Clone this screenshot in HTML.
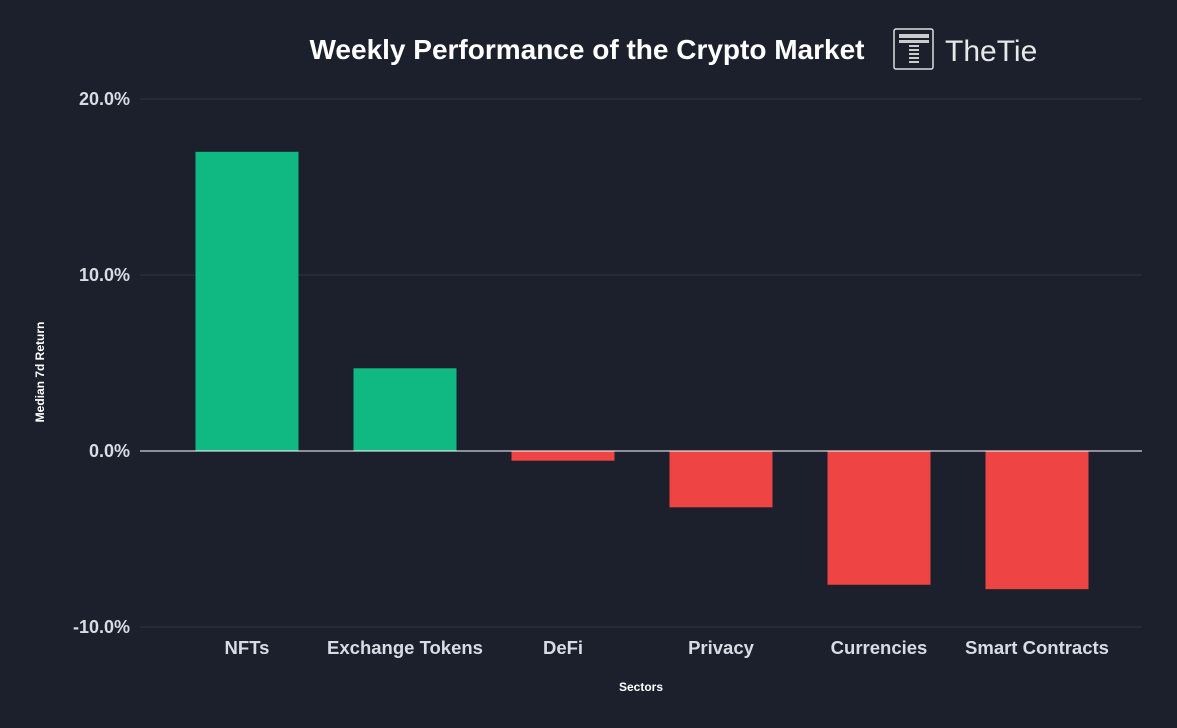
<!DOCTYPE html>
<html><head><meta charset="utf-8"><style>
html,body{margin:0;padding:0;background:#1b202c;}
svg{display:block;font-family:"Liberation Sans",sans-serif;}
</style></head><body>
<svg id="chart" width="1177" height="728">
<rect width="1177" height="728" fill="#1b202c"/>
<text x="587" y="59" text-anchor="middle" font-size="28" font-weight="bold" fill="#fff">Weekly Performance of the Crypto Market</text>
<g>
<rect x="894" y="29" width="39" height="40" rx="2" fill="none" stroke="#ddd" stroke-width="1.5"/>
<rect x="899" y="34" width="30" height="4" fill="#ccc"/>
<rect x="899" y="40" width="30" height="3" fill="#ccc"/>
<rect x="909" y="45" width="10" height="2" fill="#ccc"/>
<rect x="909" y="49" width="10" height="2" fill="#ccc"/>
<rect x="909" y="53" width="10" height="2" fill="#ccc"/>
<rect x="909" y="57" width="10" height="2" fill="#ccc"/>
<rect x="909" y="61" width="10" height="2" fill="#ccc"/>
<text x="945" y="61" font-size="30" fill="#e8e8e8">TheTie</text>
</g>
<g id="grid"></g><g id="bars"></g><g id="labels"></g>
<text transform="translate(44,372) rotate(-90)" text-anchor="middle" font-size="12" font-weight="bold" fill="#fff">Median 7d Return</text>
<text x="641" y="691" text-anchor="middle" font-size="12" font-weight="bold" fill="#fff">Sectors</text>
</svg>
<script>
const categories=["NFTs","Exchange Tokens","DeFi","Privacy","Currencies","Smart Contracts"];
const values=[17.0,4.7,-0.55,-3.2,-7.6,-7.85];
const ticks=[20,10,0,-10];
const tickLabels=["20.0%","10.0%","0.0%","-10.0%"];
const NS="http://www.w3.org/2000/svg";
const y=v=>451-v*17.6;
const x=i=>247+i*158;
const bw=103;
function mk(t,a,p){const e=document.createElementNS(NS,t);for(const k in a)e.setAttribute(k,a[k]);p.appendChild(e);return e;}
const g=document.getElementById('grid'),b=document.getElementById('bars'),l=document.getElementById('labels');
ticks.forEach((t,i)=>{
 const ln=mk('line',{x1:140,x2:1142,y1:y(t),y2:y(t),stroke:'#2e3340','stroke-width':1},g);
 
 
 const tx=mk('text',{x:130,y:y(t)+6,'text-anchor':'end','font-size':18,'font-weight':'bold',fill:'#d8dce4'},l);
 tx.textContent=tickLabels[i];
 
 
});
categories.forEach((c,i)=>{
 const v=values[i];
 const r=mk('rect',{x:x(i)-bw/2,y:Math.min(y(v),y(0)),width:bw,height:Math.abs(y(v)-y(0)),fill:v>=0?'#10b981':'#ef4444'},b);
 
 
 const tx=mk('text',{x:x(i),y:654,'text-anchor':'middle','font-size':18.5,'font-weight':'bold',fill:'#d8dce4'},l);
 tx.textContent=c;
 
 
});
const zl=mk('line',{x1:140,x2:1142,y1:y(0),y2:y(0),stroke:'#ffffff','stroke-width':1},b);


</script>
</body></html>
